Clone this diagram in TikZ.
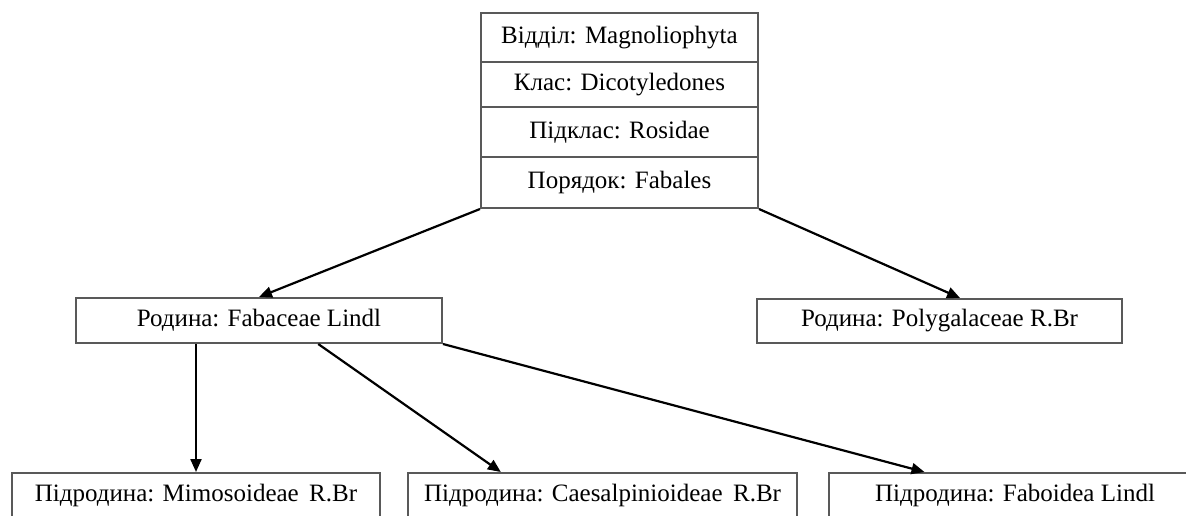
\documentclass[tikz,border=0pt]{standalone}
\usepackage{fontspec}
\setmainfont{Liberation Serif}
\usepackage{tikz}
\usetikzlibrary{arrows.meta, calc}

\tikzset{
    kasten/.style={draw=black!65, line width=2pt, fill=white, inner sep=0pt, text=black},
    pfeil/.style={draw=black, line width=2.2pt, -{Triangle[length=13pt, width=11pt]}}
}

\begin{document}
\begin{tikzpicture}[x=1pt, y=-1pt, font=\fontsize{25}{29}\selectfont]
    \useasboundingbox (0,0) rectangle (1186,515);
    \clip (0,0) rectangle (1186,515);

    % Stapel.
    \node[kasten, minimum width=277pt, minimum height=49pt] (viddil) at (619.5,37.5) {Відділ: Magnoliophyta};
    \node[kasten, minimum width=277pt, minimum height=45pt] (klas) at (619.5,84.5) {Клас: Dicotyledones};
    \node[kasten, minimum width=277pt, minimum height=50pt] (pidklas) at (619.5,132) {Підклас: Rosidae};
    \node[kasten, minimum width=277pt, minimum height=51pt] (poryadok) at (619.5,182.5) {Порядок: Fabales};

    % Familien.
    \node[kasten, minimum width=366pt, minimum height=45pt] (fab) at (259,320.5) {Родина: Fabaceae Lindl};
    \node[kasten, minimum width=365pt, minimum height=44pt] (poly) at (939.5,321) {Родина: Polygalaceae R.Br};

    % Unterfamilien.
    \node[kasten, minimum width=368pt, minimum height=45pt] (mim) at (196,495.5) {Підродина: Mimosoideae\, R.Br};
    \node[kasten, minimum width=389pt, minimum height=45pt] (cae) at (602.5,495.5) {Підродина: Caesalpinioideae\, R.Br};
    \node[kasten, minimum width=372pt, minimum height=45pt] (fabo) at (1015,495.5) {Підродина: Faboidea Lindl};

    % Pfeile.
    \draw[pfeil] (poryadok.south west) -- (fab.north);
    \draw[pfeil] (poryadok.south east) -- ($(poly.north west)!0.556!(poly.north east)$);
    \draw[pfeil] (mim.north |- fab.south) -- (mim.north);
    \draw[pfeil] ($(fab.south west)!0.661!(fab.south east)$) -- ($(cae.north west)!0.24!(cae.north east)$);
    \draw[pfeil] (fab.south east) -- ($(fabo.north west)!0.258!(fabo.north east)$);
\end{tikzpicture}
\end{document}
